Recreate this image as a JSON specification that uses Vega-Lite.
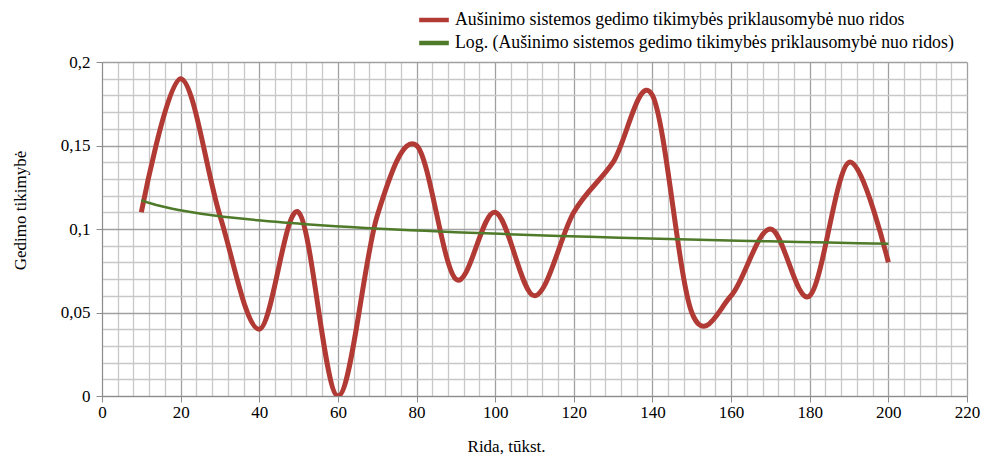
{
  "$schema": "https://vega.github.io/schema/vega-lite/v6.json",
  "width": 865,
  "height": 334,
  "autosize": {"type": "none"},
  "padding": {"left": 102, "top": 62, "right": 26, "bottom": 59},
  "background": "white",
  "config": {
    "view": {"stroke": null},
    "font": "Liberation Serif",
    "axis": {
      "labelFont": "Liberation Serif",
      "titleFont": "Liberation Serif",
      "labelFontSize": 17,
      "titleFontSize": 17,
      "titleFontWeight": "normal",
      "labelColor": "#000",
      "titleColor": "#000",
      "domainColor": "#8c8c8c",
      "tickColor": "#8c8c8c",
      "labelOverlap": false,
      "labelFlush": false,
      "labelBound": false
    },
    "legend": {
      "labelFont": "Liberation Serif",
      "labelFontSize": 17.8,
      "labelColor": "#000",
      "labelLimit": 800
    }
  },
  "data": {
    "values": [
      {"rida": 10, "p": 0.11},
      {"rida": 20, "p": 0.19},
      {"rida": 30, "p": 0.108},
      {"rida": 40, "p": 0.04},
      {"rida": 50, "p": 0.11},
      {"rida": 60, "p": 0.0},
      {"rida": 70, "p": 0.108},
      {"rida": 80, "p": 0.15},
      {"rida": 90, "p": 0.07},
      {"rida": 100, "p": 0.11},
      {"rida": 110, "p": 0.06},
      {"rida": 120, "p": 0.11},
      {"rida": 130, "p": 0.14},
      {"rida": 140, "p": 0.18},
      {"rida": 150, "p": 0.05},
      {"rida": 160, "p": 0.06},
      {"rida": 170, "p": 0.1},
      {"rida": 180, "p": 0.06},
      {"rida": 190, "p": 0.14},
      {"rida": 200, "p": 0.08}
    ]
  },
  "layer": [
    {
      "mark": {"type": "line", "interpolate": "cardinal", "strokeWidth": 5, "clip": true},
      "encoding": {
        "x": {
          "field": "rida",
          "type": "quantitative",
          "scale": {"domain": [0, 220], "nice": false},
          "axis": {
            "title": "Rida, tūkst.",
            "titlePadding": 18,
            "titleX": 404,
            "values": [0,4,8,12,16,20,24,28,32,36,40,44,48,52,56,60,64,68,72,76,80,84,88,92,96,100,104,108,112,116,120,124,128,132,136,140,144,148,152,156,160,164,168,172,176,180,184,188,192,196,200,204,208,212,216,220],
            "tickCount": 100,
            "labelExpr": "datum.value % 20 === 0 ? datum.label : ''",
            "tickOpacity": {"condition": {"test": "datum.value % 20 === 0", "value": 1}, "value": 0},
            "tickSize": 6,
            "labelPadding": 2,
            "grid": true,
            "gridColor": {"condition": {"test": "datum.value % 20 === 0", "value": "#a0a0a0"}, "value": "#c8c8c8"},
            "gridWidth": 1.3
          }
        },
        "y": {
          "field": "p",
          "type": "quantitative",
          "scale": {"domain": [0, 0.2], "nice": false},
          "axis": {
            "title": "Gedimo tikimybė",
            "titlePadding": 31,
            "titleY": 148,
            "values": [0,0.01,0.02,0.03,0.04,0.05,0.06,0.07,0.08,0.09,0.1,0.11,0.12,0.13,0.14,0.15,0.16,0.17,0.18,0.19,0.2],
            "tickCount": 100,
            "labelExpr": "round(datum.value*100) % 5 === 0 ? replace(format(datum.value, '~g'), '.', ',') : ''",
            "tickOpacity": {"condition": {"test": "round(datum.value*100) % 5 === 0", "value": 1}, "value": 0},
            "tickSize": 6,
            "labelPadding": 6,
            "grid": true,
            "gridColor": {"condition": {"test": "round(datum.value*100) % 5 === 0", "value": "#a0a0a0"}, "value": "#c8c8c8"},
            "gridWidth": 1.3
          }
        },
        "color": {
          "datum": "Aušinimo sistemos gedimo tikimybės priklausomybė nuo ridos",
          "scale": {
            "domain": ["Aušinimo sistemos gedimo tikimybės priklausomybė nuo ridos", "Log. (Aušinimo sistemos gedimo tikimybės priklausomybė nuo ridos)"],
            "range": ["#b13a35", "#4e7a29"]
          },
          "legend": {
            "title": null,
            "orient": "none",
            "legendX": 318,
            "legendY": -56,
            "symbolType": "M-1.3,0H1.3",
            "symbolSize": 520,
            "symbolStrokeWidth": 4.5,
            "labelOffset": 7,
            "rowPadding": 0
          }
        }
      }
    },
    {
      "transform": [
        {"regression": "p", "on": "rida", "method": "log", "extent": [10, 200]}
      ],
      "mark": {"type": "line", "strokeWidth": 2.5},
      "encoding": {
        "x": {"field": "rida", "type": "quantitative"},
        "y": {"field": "p", "type": "quantitative"},
        "color": {"datum": "Log. (Aušinimo sistemos gedimo tikimybės priklausomybė nuo ridos)"}
      }
    }
  ]
}
